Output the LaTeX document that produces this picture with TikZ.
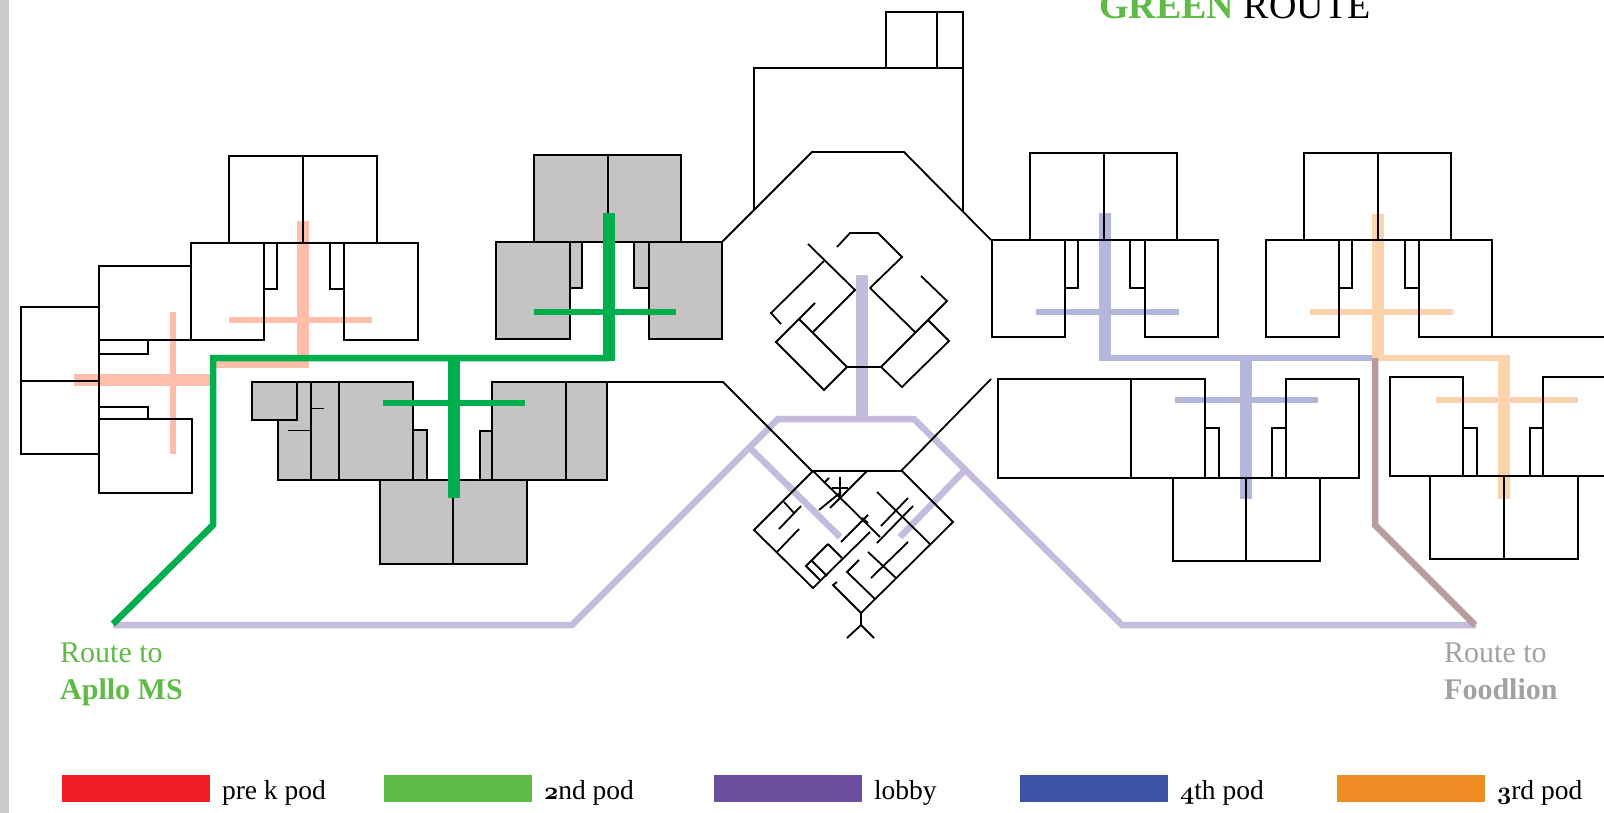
\documentclass[tikz,border=0pt]{standalone}
\usepackage{fontspec}
\setmainfont{Liberation Serif}
\usepackage{tikz}
\usetikzlibrary{positioning}
\definecolor{prekcol}{HTML}{F01F26}
\definecolor{secondcol}{HTML}{5DBB46}
\definecolor{lobbycol}{HTML}{6D4E9E}
\definecolor{fourthcol}{HTML}{3A53A4}
\definecolor{thirdcol}{HTML}{EE8B23}
\definecolor{prekpale}{HTML}{FDBFA9}
\definecolor{greenroute}{HTML}{00AE4D}
\definecolor{lobbypale}{HTML}{C5BBDD}
\definecolor{fourthpale}{HTML}{B3B7DD}
\definecolor{thirdpale}{HTML}{FDD3AC}
\definecolor{walkpale}{HTML}{B89B9B}
\definecolor{fillgrey}{HTML}{C6C3C4}
\definecolor{sidegrey}{HTML}{CCCCCC}
\definecolor{labelgrey}{HTML}{A0A2A5}
\def\legendfont{\fontsize{27.5}{32}\selectfont}
\def\routefont{\fontsize{30}{34}\selectfont}
\def\oldnum#1{{\fontsize{31}{32}\usefont{OML}{cmm}{b}{it}#1}}
\tikzset{wall/.style={draw=black,line width=1.8pt,line join=miter}}
\tikzset{spine/.style={line width=12.5pt}}
\tikzset{rib/.style={line width=6.5pt}}
\tikzset{swatch/.style={minimum width=148pt,minimum height=27pt,inner sep=0pt,outer sep=0pt,anchor=north west}}
\tikzset{legendtext/.style={font=\legendfont,inner sep=0pt,outer sep=0pt,text height=27pt,text depth=6pt}}
\tikzset{routetext/.style={font=\routefont,inner sep=0pt,anchor=base west}}
\begin{document}
\begin{tikzpicture}[x=1pt,y=-1pt,node distance=12pt]
        \useasboundingbox (0,0) rectangle (1604,813);
        \fill[white] (0,0) rectangle (1604,813);
        \fill[sidegrey] (0,0) rectangle (9,813);

        \fill[fillgrey] (534,155) rectangle (681,242) (496,242) rectangle (570,339)
        (570,242) rectangle (582,288) (634,242) rectangle (649,288) (649,242) rectangle (722,339);
        \fill[fillgrey] (252,382) rectangle (297,420) (278,382) rectangle (413,480)
        (413,430) rectangle (427,480) (380,481) rectangle (527,564)
        (480,431) rectangle (492,480) (492,382) rectangle (607,480);

        \draw[rib,prekpale] (173,312) -- (173,454);
        \draw[rib,prekpale] (229,320) -- (372,320);
        \draw[spine,prekpale] (74,380) -- (213,380);
        \draw[spine,prekpale] (303,221) -- (303,368);
        \draw[prekpale,line width=8pt] (213,364) -- (309,364);

        \draw[spine,fourthpale] (1105,213) -- (1105,358);
        \draw[spine,fourthpale] (1246,358) -- (1246,499);
        \draw[rib,fourthpale] (1036,312) -- (1179,312);
        \draw[rib,fourthpale] (1175,400) -- (1318,400);
        \draw[rib,fourthpale] (1099,358) -- (1376,358);

        \draw[spine,thirdpale] (1378,214) -- (1378,358);
        \draw[spine,thirdpale] (1504,355) -- (1504,499);
        \draw[rib,thirdpale] (1310,312) -- (1453,312);
        \draw[rib,thirdpale] (1436,400) -- (1578,400);
        \draw[rib,thirdpale] (1372,358) -- (1510,358);

        \draw[rib,lobbypale] (113,625) -- (572,625) -- (778,419) -- (914,419) -- (1122,625) -- (1476,625);
        \draw[spine,lobbypale] (862,275) -- (862,419);
        \draw[rib,lobbypale] (751,449) -- (840,537);
        \draw[rib,lobbypale] (900,537) -- (963,472);

        \draw[rib,walkpale] (1375,358) -- (1375,525) -- (1475,625);

        \draw[wall] (886,68) rectangle (963,12) (937,12) -- (937,68);
        \draw[wall] (754,210) -- (754,68) -- (963,68) -- (963,212);
        \draw[wall] (722,242) -- (812,152) -- (904,152) -- (991,240);
        \draw[wall] (607,382) -- (723,382) -- (813,472);
        \draw[wall] (991,379) -- (901,471);

        \draw[wall] (229,242) -- (229,156) -- (377,156) -- (377,242) (303,156) -- (303,242);
        \draw[wall] (191,243) rectangle (264,340) (264,243) rectangle (277,289);
        \draw[wall] (191,243) -- (418,243);
        \draw[wall] (330,243) rectangle (344,289) (344,243) rectangle (418,340);
        \draw[wall] (191,266) -- (99,266) -- (99,493) -- (192,493) -- (192,419) -- (99,419);
        \draw[wall] (99,340) -- (191,340);
        \draw[wall] (99,307) -- (21,307) -- (21,454) -- (99,454) (21,381) -- (99,381);
        \draw[wall] (99,354) -- (148,354) -- (148,340) (99,407) -- (148,407) -- (148,419);

        \draw[wall] (252,382) rectangle (297,420);
        \draw[wall] (278,420) -- (278,480) -- (427,480) -- (427,430) -- (413,430);
        \draw[wall] (297,382) -- (413,382) -- (413,480);
        \draw[wall] (311,382) -- (311,480) (339,382) -- (339,480);
        \draw[line width=1pt] (311,408) -- (324,408) (288,430) -- (311,430);
        \draw[wall] (380,480) rectangle (527,564) (453,480) -- (453,564);
        \draw[wall] (480,480) -- (480,431) -- (492,431) (427,480) -- (607,480);
        \draw[wall] (492,382) rectangle (607,480) (566,382) -- (566,480);

        \draw[wall] (534,242) -- (534,155) -- (681,155) -- (681,242) (608,155) -- (608,242);
        \draw[wall] (496,242) -- (722,242);
        \draw[wall] (496,242) rectangle (570,339) (570,242) rectangle (582,288);
        \draw[wall] (634,242) rectangle (649,288) (649,242) rectangle (722,339);

        \draw[wall] (1030,240) -- (1030,153) -- (1177,153) -- (1177,240) (1104,153) -- (1104,240);
        \draw[wall] (992,240) -- (1218,240);
        \draw[wall] (992,240) rectangle (1065,337) (1065,240) rectangle (1078,288);
        \draw[wall] (1130,240) rectangle (1145,288) (1145,240) rectangle (1218,337);

        \draw[wall] (1304,240) -- (1304,153) -- (1451,153) -- (1451,240) (1378,153) -- (1378,240);
        \draw[wall] (1266,240) -- (1492,240);
        \draw[wall] (1266,240) rectangle (1339,337) (1339,240) rectangle (1352,288);
        \draw[wall] (1405,240) rectangle (1419,288) (1419,240) rectangle (1492,337);
        \draw[wall] (1492,337) -- (1604,337);

        \draw[wall] (998,379) rectangle (1205,478) (1131,379) -- (1131,478);
        \draw[wall] (1205,478) -- (1205,428) -- (1219,428) -- (1219,478);
        \draw[wall] (1205,478) -- (1359,478);
        \draw[wall] (1272,478) -- (1272,428) -- (1286,428) (1286,379) rectangle (1359,478);
        \draw[wall] (1173,478) rectangle (1320,561) (1246,478) -- (1246,561);

        \draw[wall] (1390,377) rectangle (1463,476) (1463,428) -- (1477,428) -- (1477,476);
        \draw[wall] (1463,476) -- (1604,476);
        \draw[wall] (1530,476) -- (1530,428) -- (1543,428);
        \draw[wall] (1604,377) -- (1543,377) -- (1543,476);
        \draw[wall] (1430,476) rectangle (1578,559) (1504,476) -- (1504,559);

        \draw[wall] (808,244) -- (855,290) -- (813,332);
        \draw[wall] (781,324) -- (771,313) -- (824,261);
        \draw[wall] (815,303) -- (776,342) -- (824,390) -- (847,367) -- (799,319);
        \draw[wall] (847,367) -- (881,367) -- (902,387) -- (949,341) -- (928,320);
        \draw[wall] (881,367) -- (947,301) -- (921,276);
        \draw[wall] (870,288) -- (915,332);
        \draw[wall] (837,247) -- (850,233) -- (878,233) -- (902,257) -- (870,288);

        \draw[wall] (813,471) -- (902,471) -- (953,522) -- (861,613) -- (833,585) -- (837,582);
        \draw[wall] (813,471) -- (754,530) -- (813,588) -- (870,532);
        \draw[wall] (813,471) -- (880,537) (877,543) -- (913,506);
        \draw[wall] (867,471) -- (830,508) (829,478) -- (824,483) (841,492) -- (819,510);
        \draw[wall] (840,477) -- (840,498) (832,488) -- (848,488);
        \draw[wall] (784,502) -- (794,513) (801,506) -- (779,529) (799,529) -- (777,552);
        \draw[wall] (841,542) -- (868,515) (862,518) -- (868,523);
        \draw[wall] (828,544) -- (806,566) -- (820,580) (828,544) -- (842,558) (812,561) -- (827,576);
        \draw[wall] (877,492) -- (930,544) (881,526) -- (908,498);
        \draw[wall] (908,542) -- (871,578) (868,552) -- (896,578);
        \draw[wall] (859,560) -- (847,572) -- (875,599);
        \draw[wall] (861,613) -- (861,625) -- (847,638) (861,625) -- (874,638);

        \draw[rib,greenroute] (113,624) -- (213,525) -- (213,358) -- (609,358);
        \draw[spine,greenroute] (609,213) -- (609,361);
        \draw[spine,greenroute] (454,355) -- (454,498);
        \draw[rib,greenroute] (534,312) -- (676,312);
        \draw[rib,greenroute] (383,403) -- (525,403);

        \node[routetext,font=\fontsize{38}{42}\selectfont](routetitle) at (1099,19){\textcolor{secondcol}{\textbf{GREEN}} ROUTE};
        \node[routetext,text=secondcol](routeleft) at (60,662){Route to};
        \node[routetext,font=\routefont\bfseries,text=secondcol](routeleftname) at (60,699){Apllo MS};
        \node[routetext,text=labelgrey](routeright) at (1444,662){Route to};
        \node[routetext,font=\routefont\bfseries,text=labelgrey](routerightname) at (1444,699){Foodlion};

        \node[swatch,fill=prekcol](prek) at (62,775){};
        \node[legendtext,right=of prek](prektext){pre k pod};
        \node[swatch,fill=secondcol](second) at (384,775){};
        \node[legendtext,right=of second](secondtext){\oldnum{2}nd pod};
        \node[swatch,fill=lobbycol](lobby) at (714,775){};
        \node[legendtext,right=of lobby](lobbytext){lobby};
        \node[swatch,fill=fourthcol](fourth) at (1020,775){};
        \node[legendtext,right=of fourth](fourthtext){\oldnum{4}th pod};
        \node[swatch,fill=thirdcol](third) at (1337,775){};
        \node[legendtext,right=of third](thirdtext){\oldnum{3}rd pod};
      \end{tikzpicture}
\end{document}
